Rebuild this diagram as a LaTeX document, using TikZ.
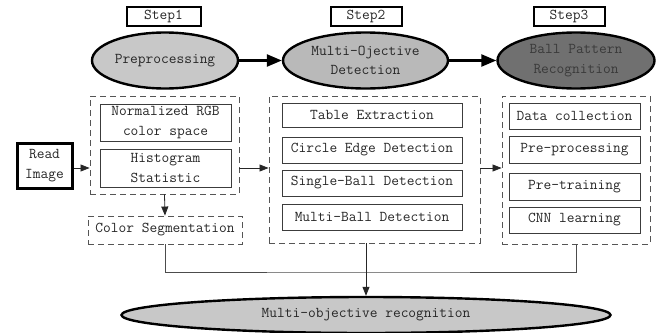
\documentclass[tikz,border=0pt]{standalone}
\usetikzlibrary{shapes.geometric,arrows.meta}
\definecolor{eOne}{HTML}{C8C8C8}
\definecolor{eTwo}{HTML}{B9B9B9}
\definecolor{eThree}{HTML}{707070}
\definecolor{eThreeText}{HTML}{3A3A3A}
\definecolor{thinline}{HTML}{3C3C3C}
\definecolor{dashline}{HTML}{555555}
\begin{document}
\begin{tikzpicture}[x=1pt,y=-1pt,
  every node/.style={font=\ttfamily\fontsize{15}{19.5}\selectfont, inner sep=0pt, align=center, text=black!85},
  stepbox/.style={draw=black, line width=2pt, minimum width=74pt, minimum height=19pt},
  phase/.style={ellipse, draw=black, line width=2.4pt, minimum height=56pt},
  group/.style={draw=dashline, dashed, dash pattern=on 6pt off 4pt, line width=0.9pt},
  item/.style={draw=thinline, line width=0.9pt, minimum width=#1},
  item/.default=131pt,
  bigarrow/.style={line width=2.4pt, -{Triangle[length=15pt,width=12pt]}},
  smallarrow/.style={line width=0.8pt, draw=black!85, -{Triangle[length=9pt,width=7pt]}},
  plainline/.style={line width=0.8pt, draw=black!70}
]
\useasboundingbox (0,0) rectangle (658,332);

% step labels
\node[stepbox] (s1) at (163.5,16) {Step1};
\node[stepbox, minimum width=71pt] (s2) at (366,16) {Step2};
\node[stepbox, minimum width=71pt] (s3) at (569,16) {Step3};

% phases
\node[phase, fill=eOne, minimum width=146pt] (e1) at (165,60.5) {Preprocessing};
\node[phase, fill=eTwo, minimum width=165pt] (e2) at (365.5,60.5) {Multi-Ojective\\Detection};
\node[phase, fill=eThree, minimum width=157pt, text=eThreeText] (e3) at (576,60.5) {Ball Pattern\\Recognition};

\draw[bigarrow] (e1.east) -- (e2.west);
\draw[bigarrow] (e2.east) -- (e3.west);

% read image
\node[draw=black, line width=3pt, minimum width=55pt, minimum height=45pt] (read) at (44.5,165.5) {Read\\Image};

% group 1
\node[group, minimum width=149pt, minimum height=98pt] (g1) at (164.5,145) {};
\node[item, minimum height=37pt] (norm) at (165.5,122.5) {Normalized RGB\\color space};
\node[item, minimum height=38pt] (hist) at (165.5,168) {Histogram\\Statistic};
\node[group, minimum width=154pt, minimum height=28pt] (cseg) at (165,230) {Color Segmentation};

% group 2
\node[group, minimum width=211pt, minimum height=147pt] (g2) at (374.5,169.5) {};
\node[item=180pt, minimum height=24pt] (tab) at (372,115) {Table Extraction};
\node[item=180pt, minimum height=26pt] (circ) at (372,150) {Circle Edge Detection};
\node[item=180pt, minimum height=26pt] (single) at (372,183) {Single-Ball Detection};
\node[item=180pt, minimum height=26pt] (multi) at (372,217) {Multi-Ball Detection};

% group 3
\node[group, minimum width=148pt, minimum height=148pt] (g3) at (576,170) {};
\node[item, minimum height=26pt] (data) at (574.5,116) {Data collection};
\node[item, minimum height=27pt] (prep) at (574.5,149.5) {Pre-processing};
\node[item, minimum height=27pt] (pret) at (574.5,186.5) {Pre-training};
\node[item, minimum height=26pt] (cnn) at (574.5,220) {CNN learning};

% bottom
\node[ellipse, draw=black, line width=2.4pt, fill=eOne, minimum width=489pt, minimum height=36pt] (bot) at (366,315) {Multi-objective recognition};
\coordinate (join) at (366,272);

% connectors
\draw[smallarrow] (read.east |- hist.center) -- (g1.west |- hist.center);
\draw[smallarrow] (g1.east |- hist.center) -- (g2.west |- hist.center);
\draw[smallarrow] (g2.east |- hist.center) -- (g3.west |- hist.center);
\draw[smallarrow] (g1.south) -- (cseg.north);
\draw[plainline] (cseg.south) |- (join) -| (g3.south);
\draw[smallarrow] (g2.south -| bot.north) -- (bot.north);
\end{tikzpicture}
\end{document}
